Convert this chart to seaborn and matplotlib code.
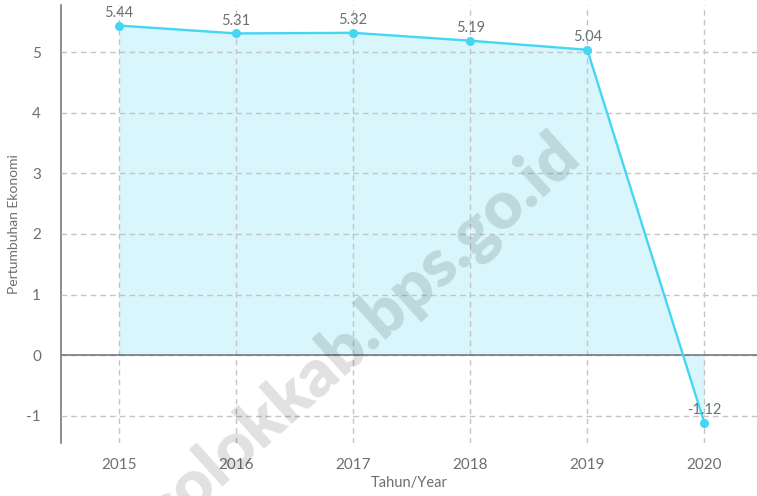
import numpy as np
import pandas as pd
import matplotlib
matplotlib.use("Agg")
import matplotlib.pyplot as plt
import seaborn as sns

# data
tahun = [2015, 2016, 2017, 2018, 2019, 2020]
pertumbuhan = [5.44, 5.31, 5.32, 5.19, 5.04, -1.12]
label_nilai = ["5.44", "5.31", "5.32", "5.19", "5.04", "-1.12"]

df = pd.DataFrame({"tahun": tahun, "nilai": pertumbuhan})

sns.set_theme(style="white")
plt.rcParams["font.family"] = ["Lato", "DejaVu Sans"]
plt.rcParams["axes.unicode_minus"] = False

garis = "#45d6f3"
isi = "#d8f6fc"
abu = "#6b7078"

fig = plt.figure(figsize=(7.57, 4.96), dpi=100)
ax = fig.add_axes([0.08, 0.107, 0.92, 0.883])

ax.fill_between(df["tahun"], df["nilai"], 0, color=isi, zorder=1, linewidth=0)
sns.lineplot(data=df, x="tahun", y="nilai", ax=ax, color=garis, linewidth=1.7,
             marker="o", markersize=6.5, markeredgewidth=0, zorder=4)

for x, y, t in zip(tahun, pertumbuhan, label_nilai):
    ax.annotate(t, (x, y), xytext=(0, 4), textcoords="offset points",
                ha="center", va="bottom", fontsize=10.5, color="#6b6f75", zorder=5)

ax.axhline(0, color=abu, linewidth=1.1, zorder=3)

ax.set_xlim(2014.5, 2020.45)
ax.set_ylim(-1.45, 5.78)
ax.set_xticks(tahun)
ax.set_yticks([-1, 0, 1, 2, 3, 4, 5])
ax.set_axisbelow(False)
ax.grid(True, linestyle=(0, (4, 3)), color="#c4c4c4", linewidth=1.0, zorder=2)

for s in ["top", "right", "bottom"]:
    ax.spines[s].set_visible(False)
ax.spines["left"].set_color(abu)
ax.spines["left"].set_linewidth(1.1)

ax.tick_params(axis="both", length=0, labelsize=11, labelcolor="#6b6f75")
ax.tick_params(axis="x", pad=11)
ax.tick_params(axis="y", pad=14)

ax.set_xlabel("Tahun/Year", fontsize=10.5, color="#6b6f75", labelpad=3)
ax.set_ylabel("Pertumbuhan Ekonomi", fontsize=10, color="#6b6f75", labelpad=5)

# watermark
fig.text(0.48, 0.33, "solokkab.bps.go.id", fontsize=48, fontweight="heavy",
         color="black", alpha=0.12, rotation=42, ha="center", va="center",
         rotation_mode="anchor", zorder=10)

fig.savefig("out.png", dpi=100)
